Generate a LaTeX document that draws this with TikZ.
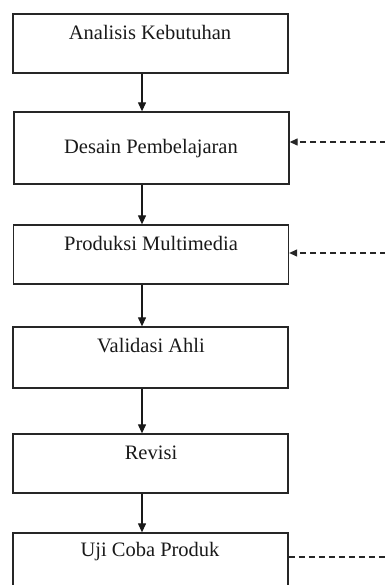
\documentclass[tikz,border=0pt]{standalone}
\usepackage{fontspec}
\setmainfont{Liberation Serif}
\usetikzlibrary{arrows.meta}
\begin{document}
\begin{tikzpicture}[x=1pt,y=-1pt,
  box/.style={draw=black!85, line width=1.3pt, rectangle, inner sep=0pt, minimum width=275pt},
  txt/.style={anchor=base, inner sep=0pt, font=\fontsize{20.5}{24}\selectfont, text=black!90},
  flow/.style={line width=1.2pt, draw=black!90, -{Triangle[length=9pt,width=8pt]}},
  fb/.style={line width=1.2pt, draw=black!85, dash pattern=on 6pt off 4pt, -{Triangle[length=8pt,width=7pt]}},
  fbl/.style={line width=1.2pt, draw=black!85, dash pattern=on 6pt off 4pt}]
\useasboundingbox (0,0) rectangle (384,585);
\node[box, minimum height=59pt] (b1) at (150.5,43.5) {};
\node[box, minimum height=72pt] (b2) at (151.5,148) {};
\node[box, minimum height=59pt] (b3) at (151,254.5) {};
\node[box, minimum height=61pt] (b4) at (150.5,357.5) {};
\node[box, minimum height=59pt] (b5) at (150.5,463.5) {};
\node[box, minimum height=80pt] (b6) at (150.5,573) {};
\node[txt] (t1) at (150,39.5) {Analisis Kebutuhan};
\node[txt] (t2) at (151,154) {Desain Pembelajaran};
\node[txt] (t3) at (151,250) {Produksi Multimedia};
\node[txt] (t4) at (151,352.5) {Validasi Ahli};
\node[txt] (t5) at (151,459) {Revisi};
\node[txt] (t6) at (150,556.5) {Uji Coba Produk};
\draw[flow] (b1.south -| 142,0) -- (b2.north -| 142,0);
\draw[flow] (b2.south -| 142,0) -- (b3.north -| 142,0);
\draw[flow] (b3.south -| 142,0) -- (b4.north -| 142,0);
\draw[flow] (b4.south -| 142,0) -- (b5.north -| 142,0);
\draw[flow] (b5.south -| 142,0) -- (b6.north -| 142,0);
\coordinate (d1) at (386,142);
\coordinate (d2) at (386,253);
\coordinate (d3) at (386,557);
\draw[fb] (d1) -- (d1 -| b2.east);
\draw[fb] (d2) -- (d2 -| b3.east);
\draw[fbl] (b6.east |- d3) -- (d3);
\end{tikzpicture}
\end{document}
